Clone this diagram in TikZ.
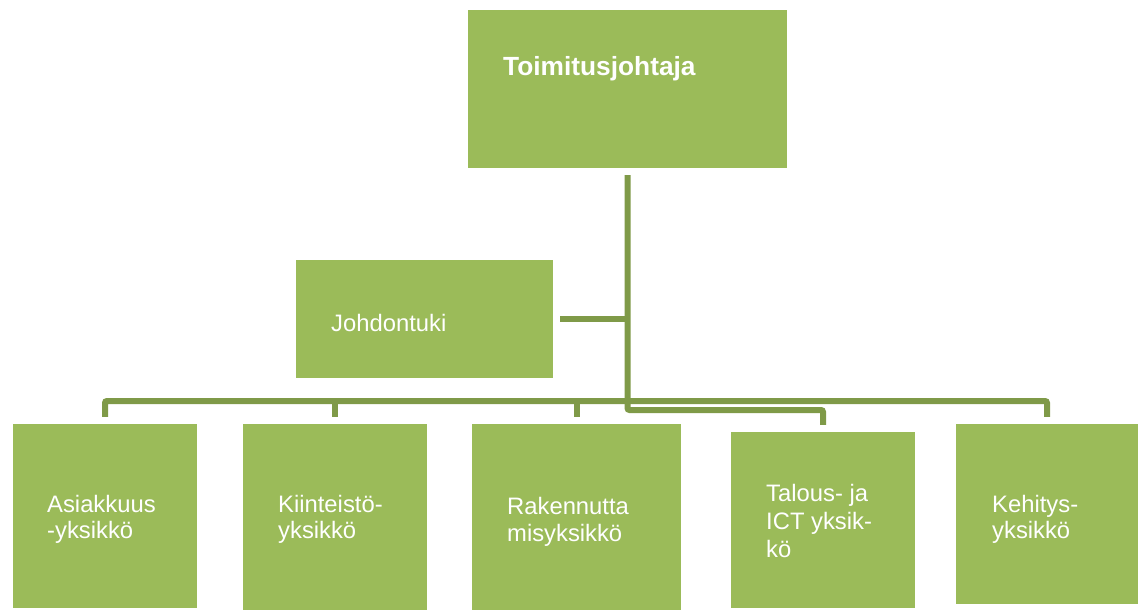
\documentclass[tikz,border=0pt]{standalone}
\usepackage{fontspec}
\setmainfont{Liberation Sans}
\definecolor{boxgreen}{HTML}{9BBB59}
\definecolor{linegreen}{HTML}{7F9A48}
\begin{document}
\begin{tikzpicture}[x=1pt,y=-1pt,
  box/.style={rectangle, fill=boxgreen, draw=none, inner sep=0pt},
  lbl/.style={anchor=base west, inner sep=0pt, text=white, align=left,
    font=\fontsize{23.8}{26}\selectfont},
  conn/.style={draw=linegreen, line width=6pt, rounded corners=2pt}]
\useasboundingbox (0,0) rectangle (1138,610);
% boxes
\node[box, minimum width=319pt, minimum height=158pt] (top) at (627.5,89) {};
\node[box, minimum width=257pt, minimum height=118pt] (jt) at (424.5,319) {};
\node[box, minimum width=184pt, minimum height=184pt] (a1) at (105,516) {};
\node[box, minimum width=184pt, minimum height=186pt] (a2) at (335,517) {};
\node[box, minimum width=209pt, minimum height=186pt] (a3) at (576.5,517) {};
\node[box, minimum width=184pt, minimum height=176pt] (a4) at (823,520) {};
\node[box, minimum width=182pt, minimum height=180pt] (a5) at (1047,514) {};
% labels (anchor at the baseline of the last line)
\node[lbl, font=\fontsize{26.3}{30}\selectfont\bfseries] (ttop) at (503,75) {Toimitusjohtaja};
\node[lbl] (tjt) at (331,331) {Johdontuki};
\node[lbl] (t1) at (47,538) {Asiakkuus\\-yksikkö};
\node[lbl] (t2) at (278,538) {Kiinteistö-\\yksikkö};
\node[lbl, font=\fontsize{23.8}{27}\selectfont] (t3) at (507,541) {Rakennutta\\misyksikkö};
\node[lbl, font=\fontsize{23.8}{28}\selectfont] (t4) at (766,557) {Talous- ja\\ICT yksik-\\kö};
\node[lbl] (t5) at (992,538) {Kehitys-\\yksikkö};
% connectors
\coordinate (bus) at (627,401);
\coordinate (tk) at (627,410);
\draw[conn] ([yshift=7pt]a1.north) |- (bus) -| ([yshift=7pt]a5.north);
\draw[conn] ([yshift=7pt]a2.north) -- (a2.north |- bus);
\draw[conn] ([yshift=7pt]a3.north) -- (a3.north |- bus);
\draw[conn] ([yshift=-7pt]top.south) |- (a4.north |- tk) -- ([yshift=7pt]a4.north);
\draw[conn] ([xshift=7pt]jt.east) -- (jt.east -| top.south);
\end{tikzpicture}
\end{document}
